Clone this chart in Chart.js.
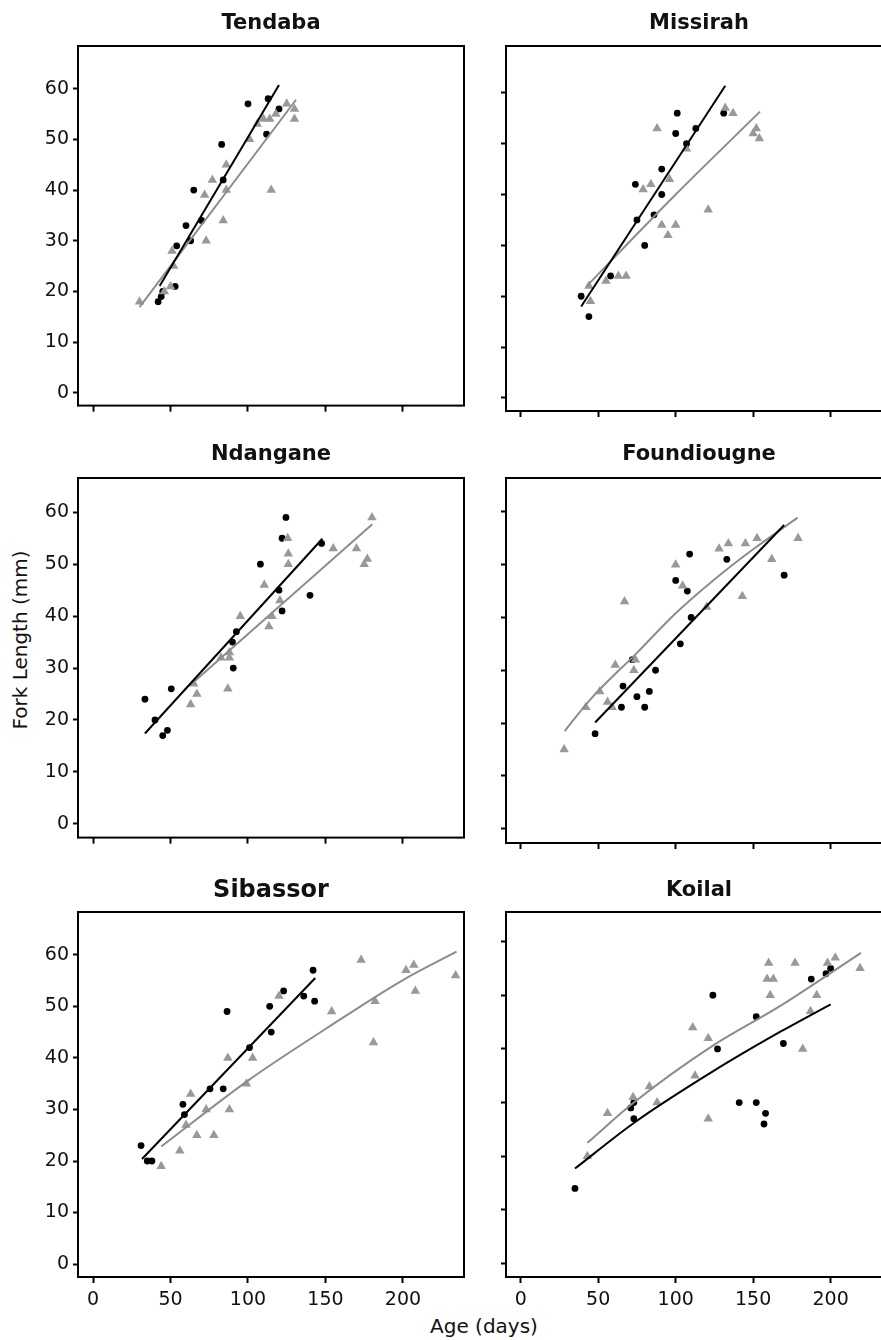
<!DOCTYPE html>
<html>
<head>
<meta charset="utf-8">
<script src="https://cdn.jsdelivr.net/npm/chart.js@4.4.1/dist/chart.umd.min.js"></script>
<style>
  html, body { margin: 0; padding: 0; overflow: hidden; background: #fff; }
  body { position: relative; width: 881px; height: 1340px; font-family: "DejaVu Sans", sans-serif; color: #111; }
  canvas { position: absolute; }
  .axis-title { position: absolute; font-family: "DejaVu Sans", sans-serif; font-size: 20px; line-height: 1; white-space: nowrap; color: #111; }
</style>
</head>
<body>
<div class="axis-title" id="ytitle" style="left:20px; top:640px; transform: translate(-50%, -50%) rotate(-90deg);">Fork Length (mm)</div>
<div class="axis-title" id="xtitle" style="left:484px; top:1326px; transform: translate(-50%, -50%);">Age (days)</div>

<script>
// ticks shared by all panels
const ageTicks = [0, 50, 100, 150, 200];
const lengthTicks = [0, 10, 20, 30, 40, 50, 60];

// Tendaba
const tendabaDotAge = [42, 44, 45, 53, 54, 60, 63, 65, 70, 83, 84, 100, 112, 113, 120];
const tendabaDotLen = [18, 19, 20, 21, 29, 33, 30, 40, 34, 49, 42, 57, 51, 58, 56];
const tendabaTriAge = [30, 46, 50, 52, 51, 72, 73, 77, 84, 86, 86, 101, 106, 110, 114, 115, 118, 125, 130, 130];
const tendabaTriLen = [18, 20, 21, 25, 28, 39, 30, 42, 34, 40, 45, 50, 53, 54, 54, 40, 55, 57, 56, 54];
const tendabaDotFitAge = [43, 120];
const tendabaDotFitLen = [21.1, 60.7];
const tendabaTriFitAge = [30, 131];
const tendabaTriFitLen = [16.9, 57.8];

// Missirah
const missirahDotAge = [39, 44, 58, 74, 75, 80, 86, 91, 91, 100, 101, 107, 113, 131];
const missirahDotLen = [20, 16, 24, 42, 35, 30, 36, 45, 40, 52, 56, 50, 53, 56];
const missirahTriAge = [44, 45, 55, 63, 68, 79, 84, 88, 91, 95, 96, 100, 107, 121, 132, 137, 150, 152, 154];
const missirahTriLen = [22, 19, 23, 24, 24, 41, 42, 53, 34, 32, 43, 34, 49, 37, 57, 56, 52, 53, 51];
const missirahDotFitAge = [39, 132];
const missirahDotFitLen = [18, 61.4];
const missirahTriFitAge = [42.6, 100, 154.4];
const missirahTriFitLen = [22, 40, 56.3];

// Ndangane
const ndanganeDotAge = [33.5, 40, 45, 48, 50.5, 90, 90.5, 92.5, 108, 120, 122, 122, 124.5, 140, 147.5];
const ndanganeDotLen = [24, 20, 17, 18, 26, 35, 30, 37, 50, 45, 41, 55, 59, 44, 54];
const ndanganeTriAge = [63, 65, 67, 82.6, 87, 88, 88, 95, 110.5, 113.5, 115.5, 120.6, 125.6, 126, 126, 155, 170, 175, 177, 180];
const ndanganeTriLen = [23, 27, 25, 32, 26, 33, 32, 40, 46, 38, 40, 43, 55, 52, 50, 53, 53, 50, 51, 59];
const ndanganeDotFitAge = [33.5, 148];
const ndanganeDotFitLen = [17.4, 54.9];
const ndanganeTriFitAge = [63.7, 180.2];
const ndanganeTriFitLen = [27, 57.7];

// Foundiougne
const foundiougneDotAge = [48, 65, 66, 72, 75, 80, 83, 87, 100, 103, 107.5, 109, 110, 133, 170];
const foundiougneDotLen = [18, 23, 27, 32, 25, 23, 26, 30, 47, 35, 45, 52, 40, 51, 48];
const foundiougneTriAge = [28, 42, 51, 56, 59, 61, 67, 73, 74, 100, 104.5, 120, 128, 134, 143, 145, 152.5, 162, 179];
const foundiougneTriLen = [15, 23, 26, 24, 23, 31, 43, 30, 32, 50, 46, 42, 53, 54, 44, 54, 55, 51, 55];
const foundiougneDotFitAge = [48, 170];
const foundiougneDotFitLen = [20.1, 57.5];
const foundiougneTriFitAge = [28.4, 45, 75, 100, 125, 150, 178.7];
const foundiougneTriFitLen = [18.5, 24.5, 33.3, 40.8, 47.2, 52.9, 58.9];

// Sibassor
const sibassorDotAge = [31, 35, 38, 58, 59, 75.5, 84, 86.5, 101, 114, 115, 123, 136, 142, 143];
const sibassorDotLen = [23, 20, 20, 31, 29, 34, 34, 49, 42, 50, 45, 53, 52, 57, 51];
const sibassorTriAge = [44, 56, 60, 63, 67, 73, 78, 87, 88, 99, 103, 120, 154, 173, 181, 182, 202, 207, 208, 234];
const sibassorTriLen = [19, 22, 27, 33, 25, 30, 25, 40, 30, 35, 40, 52, 49, 59, 43, 51, 57, 58, 53, 56];
const sibassorDotFitAge = [31.6, 143.4];
const sibassorDotFitLen = [20.4, 55.5];
const sibassorTriFitAge = [44, 100, 150, 200, 234.6];
const sibassorTriFitLen = [22.8, 35.6, 45.6, 55.1, 60.6];

// Koilal
const koilalDotAge = [35, 71, 73, 73, 124, 127, 141, 152, 152, 158, 157, 169.5, 187.5, 197, 200];
const koilalDotLen = [14, 29, 30, 27, 50, 40, 30, 30, 46, 28, 26, 41, 53, 54, 55];
const koilalTriAge = [43, 56, 72.5, 83, 88, 111, 112.5, 121, 121, 160, 159, 163, 161, 177, 182, 187, 191, 198, 203, 219];
const koilalTriLen = [20, 28, 31, 33, 30, 44, 35, 42, 27, 56, 53, 53, 50, 56, 40, 47, 50, 56, 57, 55];
const koilalDotFitAge = [35, 73, 124, 167, 200];
const koilalDotFitLen = [17.7, 26.2, 35.8, 43.1, 48.3];
const koilalTriFitAge = [43, 73, 124, 167, 219.6];
const koilalTriFitLen = [22.5, 30, 40.6, 47.9, 57.9];

const BLACK = '#000000';
const GREY_PT = '#999999';
const GREY_LN = '#8c8c8c';
const TEXT = '#111111';
const Y_AXIS_W = 78;
const PAD_TOP = 50;

function pts(xs, ys) {
  return xs.map((x, i) => ({ x: x, y: ys[i] }));
}

// frame round the plot area and the panel title above it
const framePlugin = {
  id: 'frame',
  afterDraw(chart, args, opts) {
    const a = chart.chartArea;
    const ctx = chart.ctx;
    ctx.save();
    ctx.strokeStyle = '#000';
    ctx.lineWidth = 2;
    ctx.strokeRect(a.left, a.top, a.right - a.left, a.bottom - a.top);
    ctx.fillStyle = TEXT;
    ctx.font = 'bold ' + opts.size + 'px "DejaVu Sans", sans-serif';
    ctx.textAlign = 'center';
    ctx.textBaseline = 'alphabetic';
    ctx.fillText(opts.text, (a.left + a.right) / 2, a.top - opts.gap);
    ctx.restore();
  }
};

function makePanel(p) {
  const xH = p.showX ? 40 : 10;
  const c = document.createElement('canvas');
  const w = p.box.right - p.box.left + Y_AXIS_W + 6;
  const h = p.box.bottom - p.box.top + PAD_TOP + xH;
  c.width = w;
  c.height = h;
  c.style.left = (p.box.left - Y_AXIS_W) + 'px';
  c.style.top = (p.box.top - PAD_TOP) + 'px';
  c.style.width = w + 'px';
  c.style.height = h + 'px';
  document.body.appendChild(c);

  new Chart(c, {
    type: 'scatter',
    data: {
      datasets: [
        { data: pts(p.dotFitAge, p.dotFitLen), showLine: true, borderColor: BLACK, borderWidth: 2,
          pointRadius: 0, cubicInterpolationMode: 'monotone', order: 0 },
        { data: pts(p.triFitAge, p.triFitLen), showLine: true, borderColor: GREY_LN, borderWidth: 2,
          pointRadius: 0, cubicInterpolationMode: 'monotone', order: 0 },
        { data: pts(p.triAge, p.triLen), pointStyle: 'triangle', pointRadius: 5.5,
          backgroundColor: GREY_PT, borderColor: GREY_PT, borderWidth: 0, order: 1 },
        { data: pts(p.dotAge, p.dotLen), pointStyle: 'circle', pointRadius: 3.4,
          backgroundColor: BLACK, borderColor: BLACK, borderWidth: 0, order: 1 }
      ]
    },
    options: {
      responsive: false,
      animation: false,
      devicePixelRatio: 1,
      layout: { padding: { top: PAD_TOP, right: 6, left: 0, bottom: 0 } },
      plugins: {
        legend: { display: false },
        tooltip: { enabled: false },
        frame: { text: p.title, size: p.titleSize, gap: p.titleGap }
      },
      scales: {
        x: {
          type: 'linear',
          min: p.xMin, max: p.xMax,
          afterBuildTicks: (s) => { s.ticks = ageTicks.map(v => ({ value: v })); },
          afterFit: (s) => { s.height = xH; },
          grid: { drawOnChartArea: false, drawTicks: true, tickLength: 6, tickWidth: 2, tickColor: '#000' },
          border: { display: false },
          ticks: { display: p.showX, color: TEXT, padding: 6,
                   font: { family: '"DejaVu Sans", sans-serif', size: 19 } }
        },
        y: {
          type: 'linear',
          min: p.yMin, max: p.yMax,
          afterBuildTicks: (s) => { s.ticks = lengthTicks.map(v => ({ value: v })); },
          afterFit: (s) => { s.width = Y_AXIS_W; },
          grid: { drawOnChartArea: false, drawTicks: true, tickLength: 5, tickWidth: 2, tickColor: '#000' },
          border: { display: false },
          ticks: { display: p.showY, color: TEXT, padding: 4,
                   font: { family: '"DejaVu Sans", sans-serif', size: 19 } }
        }
      }
    },
    plugins: [framePlugin]
  });
}

const LEFT = { left: 78, right: 464 };
const RIGHT = { left: 506, right: 892 };

const panels = [
  { title: 'Tendaba', box: { ...LEFT, top: 46, bottom: 411 }, yMin: -2.5, yMax: 68.4, xMin: -9.7, xMax: 239.4,
    showY: true, showX: false, titleSize: 21, titleGap: 17,
    dotAge: tendabaDotAge, dotLen: tendabaDotLen, triAge: tendabaTriAge, triLen: tendabaTriLen,
    dotFitAge: tendabaDotFitAge, dotFitLen: tendabaDotFitLen, triFitAge: tendabaTriFitAge, triFitLen: tendabaTriFitLen },
  { title: 'Missirah', box: { ...RIGHT, top: 46, bottom: 411 }, yMin: -2.56, yMax: 69.2, xMin: -9.5, xMax: 239.6,
    showY: false, showX: false, titleSize: 21, titleGap: 17,
    dotAge: missirahDotAge, dotLen: missirahDotLen, triAge: missirahTriAge, triLen: missirahTriLen,
    dotFitAge: missirahDotFitAge, dotFitLen: missirahDotFitLen, triFitAge: missirahTriFitAge, triFitLen: missirahTriFitLen },
  { title: 'Ndangane', box: { ...LEFT, top: 478, bottom: 843 }, yMin: -2.65, yMax: 66.6, xMin: -9.7, xMax: 239.4,
    showY: true, showX: false, titleSize: 21, titleGap: 18,
    dotAge: ndanganeDotAge, dotLen: ndanganeDotLen, triAge: ndanganeTriAge, triLen: ndanganeTriLen,
    dotFitAge: ndanganeDotFitAge, dotFitLen: ndanganeDotFitLen, triFitAge: ndanganeTriFitAge, triFitLen: ndanganeTriFitLen },
  { title: 'Foundiougne', box: { ...RIGHT, top: 478, bottom: 843 }, yMin: -2.7, yMax: 66.4, xMin: -9.5, xMax: 239.6,
    showY: false, showX: false, titleSize: 21, titleGap: 18,
    dotAge: foundiougneDotAge, dotLen: foundiougneDotLen, triAge: foundiougneTriAge, triLen: foundiougneTriLen,
    dotFitAge: foundiougneDotFitAge, dotFitLen: foundiougneDotFitLen, triFitAge: foundiougneTriFitAge, triFitLen: foundiougneTriFitLen },
  { title: 'Sibassor', box: { ...LEFT, top: 912, bottom: 1277 }, yMin: -2.5, yMax: 68.3, xMin: -9.7, xMax: 239.4,
    showY: true, showX: true, titleSize: 24, titleGap: 15,
    dotAge: sibassorDotAge, dotLen: sibassorDotLen, triAge: sibassorTriAge, triLen: sibassorTriLen,
    dotFitAge: sibassorDotFitAge, dotFitLen: sibassorDotFitLen, triFitAge: sibassorTriFitAge, triFitLen: sibassorTriFitLen },
  { title: 'Koilal', box: { ...RIGHT, top: 912, bottom: 1277 }, yMin: -2.5, yMax: 65.5, xMin: -9.5, xMax: 239.6,
    showY: false, showX: true, titleSize: 21, titleGap: 16,
    dotAge: koilalDotAge, dotLen: koilalDotLen, triAge: koilalTriAge, triLen: koilalTriLen,
    dotFitAge: koilalDotFitAge, dotFitLen: koilalDotFitLen, triFitAge: koilalTriFitAge, triFitLen: koilalTriFitLen }
];

panels.forEach(makePanel);
</script>
</body>
</html>
